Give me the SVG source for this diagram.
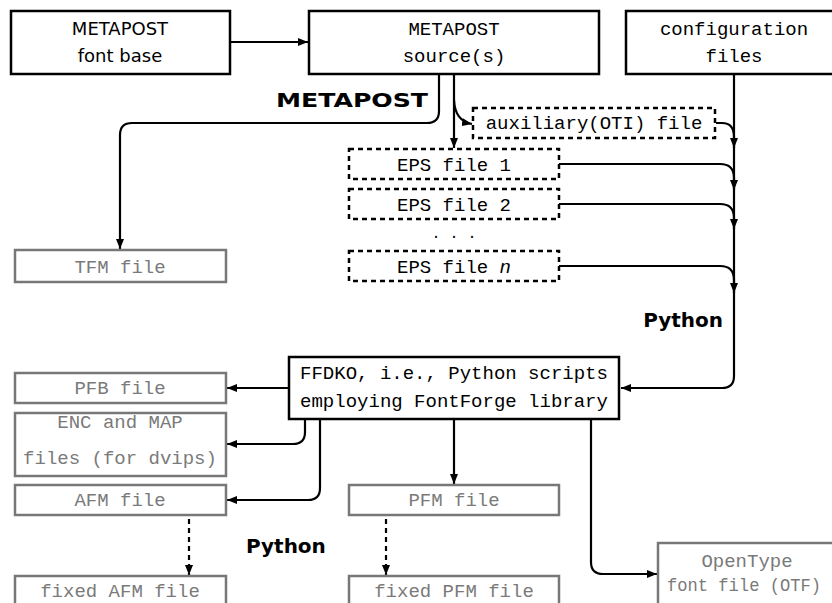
<svg xmlns="http://www.w3.org/2000/svg" width="832" height="603" viewBox="0 0 832 603">
<defs>
<marker id="ah" markerUnits="userSpaceOnUse" markerWidth="10" markerHeight="8" refX="10" refY="4" orient="auto">
<path d="M0,0 L10,4 L0,8 z" fill="#000"/>
</marker>
<style>
.bk{fill:#fff;stroke:#000;stroke-width:2.5}
.dsh{fill:#fff;stroke:#000;stroke-width:2.5;stroke-dasharray:5,4}
.gr{fill:#fff;stroke:#777;stroke-width:2.5}
.t{font-family:"Liberation Mono","DejaVu Sans Mono",monospace;font-size:19px;text-anchor:middle;fill:#000}
.tg{font-family:"Liberation Mono","DejaVu Sans Mono",monospace;font-size:19px;text-anchor:middle;fill:#7a7a7a}
.ts{font-family:"DejaVu Sans",sans-serif;font-size:18px;text-anchor:middle;fill:#000}
.lb{font-family:"DejaVu Sans",sans-serif;font-weight:bold;font-size:20px;fill:#000}
.c{fill:none;stroke:#000;stroke-width:2.2}
.cd{fill:none;stroke:#000;stroke-width:2.2;stroke-dasharray:5,4}
</style>
</defs>
<rect width="832" height="603" fill="#fff"/>
<g id="connectors">
<path class="c" d="M230,42 H308" marker-end="url(#ah)"/>
<path class="c" d="M439,74 V111 Q439,123 427,123 H132 Q120,123 120,135 V249" marker-end="url(#ah)"/>
<path class="c" d="M454,74 V148" marker-end="url(#ah)"/>
<path class="c" d="M454,100 Q455,121 472,124" marker-end="url(#ah)"/>
<path class="c" d="M734,74 V376 Q734,388 722,388 H621" marker-end="url(#ah)"/>
<path class="c" d="M716,123 H722 Q734,123 734,137 V148" marker-end="url(#ah)"/>
<path class="c" d="M559,164 H720 Q734,164 734,178 V190" marker-end="url(#ah)"/>
<path class="c" d="M559,204 H720 Q734,204 734,218 V229" marker-end="url(#ah)"/>
<path class="c" d="M559,266 H720 Q734,266 734,280 V293" marker-end="url(#ah)"/>
<path class="c" d="M289,388 H227" marker-end="url(#ah)"/>
<path class="c" d="M305,419 V432 Q305,444 293,444 H227" marker-end="url(#ah)"/>
<path class="c" d="M320,419 V488 Q320,500 308,500 H227" marker-end="url(#ah)"/>
<path class="c" d="M454,419 V484" marker-end="url(#ah)"/>
<path class="c" d="M591,419 V562 Q591,574 603,574 H657" marker-end="url(#ah)"/>
<path class="cd" d="M189,519 V575" marker-end="url(#ah)"/>
<path class="cd" d="M386,519 V575" marker-end="url(#ah)"/>
</g>
<g id="labels">
<text class="lb" x="276" y="107" textLength="152" lengthAdjust="spacingAndGlyphs">METAPOST</text>
<text class="lb" x="723" y="327" text-anchor="end">Python</text>
<text class="lb" x="246" y="553">Python</text>
</g>
<g id="mp-font-base">
<rect class="bk" x="11" y="11" width="219" height="63"/>
<text class="ts" x="120" y="35">METAPOST</text>
<text class="ts" x="120" y="62">font base</text>
</g>
<g id="mp-source">
<rect class="bk" x="309" y="11" width="290" height="63"/>
<text class="t" x="454" y="35">METAPOST</text>
<text class="t" x="454" y="62">source(s)</text>
</g>
<g id="config-files">
<rect class="bk" x="626" y="11" width="220" height="63"/>
<text class="t" x="734" y="35">configuration</text>
<text class="t" x="734" y="62">files</text>
</g>
<g id="aux-file">
<rect class="dsh" x="473" y="108" width="242" height="30"/>
<text class="t" x="594" y="129">auxiliary(OTI) file</text>
</g>
<g id="eps1">
<rect class="dsh" x="349" y="149" width="210" height="30"/>
<text class="t" x="454" y="171">EPS file 1</text>
</g>
<g id="eps2">
<rect class="dsh" x="349" y="189" width="210" height="30"/>
<text class="t" x="454" y="211">EPS file 2</text>
</g>
<g id="eps-dots">
<text class="t" x="454" y="238" style="font-size:15px">. . .</text>
</g>
<g id="epsn">
<rect class="dsh" x="349" y="251" width="210" height="30"/>
<text class="t" x="454" y="273">EPS file <tspan font-style="italic">n</tspan></text>
</g>
<g id="tfm">
<rect class="gr" x="15" y="250" width="211" height="32"/>
<text class="tg" x="120" y="273">TFM file</text>
</g>
<g id="ffdko">
<rect class="bk" x="289" y="357" width="330" height="62"/>
<text class="t" x="454" y="379">FFDKO, i.e., Python scripts</text>
<text class="t" x="454" y="407">employing FontForge library</text>
</g>
<g id="pfb">
<rect class="gr" x="15" y="373" width="211" height="30"/>
<text class="tg" x="120" y="394">PFB file</text>
</g>
<g id="enc-map">
<rect class="gr" x="15" y="413" width="211" height="63"/>
<text class="tg" x="120" y="428">ENC and MAP</text>
<text class="tg" x="120" y="464">files (for dvips)</text>
</g>
<g id="afm">
<rect class="gr" x="15" y="485" width="211" height="30"/>
<text class="tg" x="120" y="506">AFM file</text>
</g>
<g id="fixed-afm">
<rect class="gr" x="15" y="576" width="211" height="32"/>
<text class="tg" x="120" y="597">fixed AFM file</text>
</g>
<g id="pfm">
<rect class="gr" x="349" y="485" width="210" height="30"/>
<text class="tg" x="454" y="506">PFM file</text>
</g>
<g id="fixed-pfm">
<rect class="gr" x="349" y="576" width="210" height="32"/>
<text class="tg" x="454" y="597">fixed PFM file</text>
</g>
<g id="otf">
<rect class="gr" x="658" y="543" width="190" height="70"/>
<text class="tg" x="747" y="567">OpenType</text>
<text class="tg" x="744" y="591" style="font-size:18px" textLength="154" lengthAdjust="spacingAndGlyphs">font file (OTF)</text>
</g>
</svg>
